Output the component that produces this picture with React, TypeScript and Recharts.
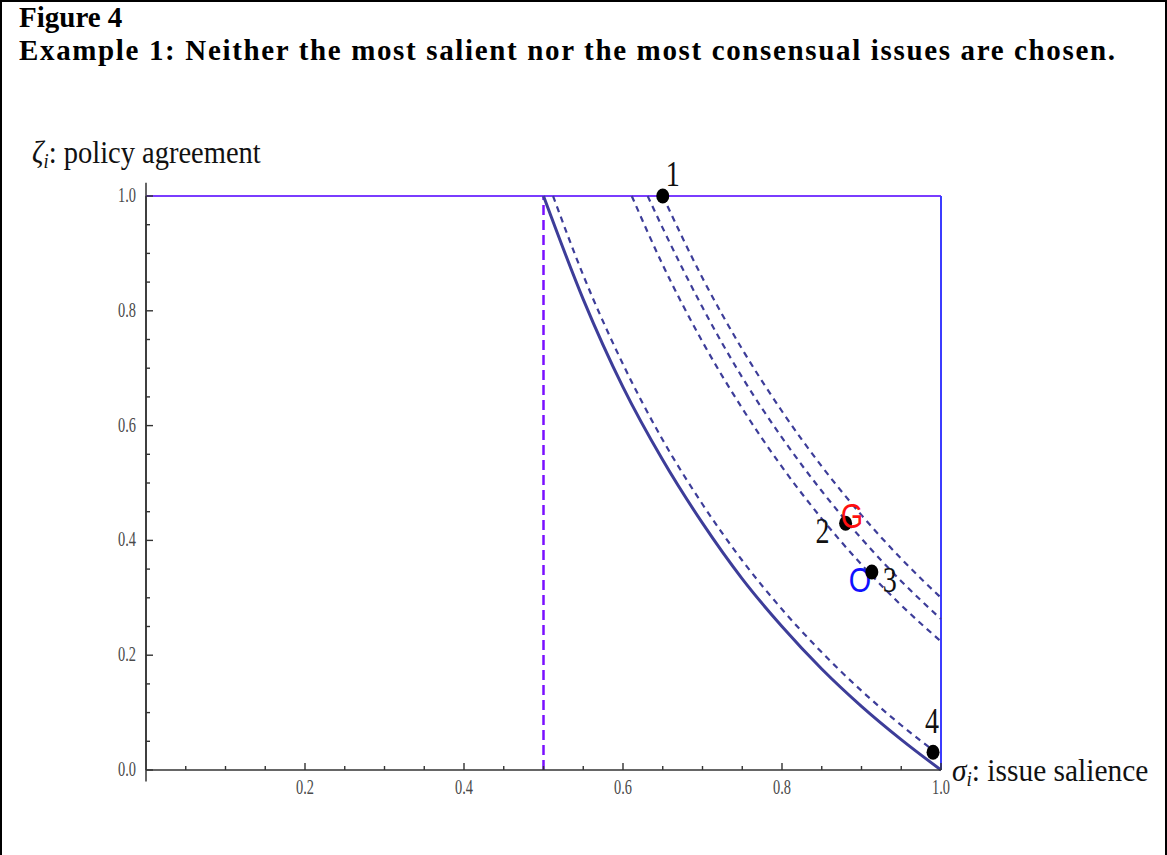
import React from "react";
import { ComposedChart, Line, Scatter, XAxis, YAxis, ReferenceLine } from "recharts";

// curves: sigma (issue salience) -> zeta (policy agreement)
const solidSigma = [0.5, 0.55, 0.6, 0.65, 0.7, 0.75, 0.8, 0.85, 0.9, 0.95, 1.0];
const solidZeta = [1.0, 0.82, 0.667, 0.54, 0.43, 0.333, 0.25, 0.176, 0.111, 0.053, 0.0];

const nearSigma = [0.512, 0.55, 0.6, 0.65, 0.7, 0.75, 0.8, 0.85, 0.9, 0.95, 1.0];
const nearZeta = [1.0, 0.862, 0.707, 0.575, 0.463, 0.365, 0.28, 0.205, 0.138, 0.078, 0.024];

const aSigma = [0.611, 0.65, 0.7, 0.75, 0.8, 0.85, 0.9, 0.95, 1.0];
const aZeta = [1.0, 0.88, 0.746, 0.63, 0.528, 0.438, 0.358, 0.287, 0.224];

const bSigma = [0.631, 0.65, 0.7, 0.75, 0.8, 0.85, 0.9, 0.95, 1.0];
const bZeta = [1.0, 0.944, 0.806, 0.684, 0.579, 0.486, 0.403, 0.329, 0.263];

const cSigma = [0.65, 0.7, 0.75, 0.8, 0.85, 0.9, 0.95, 1.0];
const cZeta = [1.0, 0.857, 0.733, 0.625, 0.529, 0.444, 0.368, 0.3];

// issues
const pointNames = ["1", "2", "3", "4"];
const pointSigma = [0.65, 0.88, 0.913, 0.99];
const pointZeta = [1.0, 0.43, 0.345, 0.031];

// G / O markers
const markerNames = ["G", "O"];
const markerSigma = [0.888, 0.898];
const markerZeta = [0.444, 0.332];

const xTicks = [0.05, 0.1, 0.15, 0.2, 0.25, 0.3, 0.35, 0.4, 0.45, 0.5, 0.55, 0.6, 0.65, 0.7, 0.75, 0.8, 0.85, 0.9, 0.95, 1.0];
const yTicks = [0, 0.05, 0.1, 0.15, 0.2, 0.25, 0.3, 0.35, 0.4, 0.45, 0.5, 0.55, 0.6, 0.65, 0.7, 0.75, 0.8, 0.85, 0.9, 0.95, 1.0];

const toPts = (xs: number[], ys: number[]) => xs.map((x, i) => ({ x, y: ys[i] }));

const curveColor = "#3d3d99";
const markerColors: Record<string, string> = { G: "#ff1010", O: "#1010ff" };
const labelOffsets: Record<string, [number, number]> = {
  "1": [10, -10],
  "2": [-23, 20],
  "3": [18, 20],
  "4": [-1, -19],
};

const isMajor = (v: number) => Math.abs(v * 5 - Math.round(v * 5)) < 1e-6;

function XTick(props: any) {
  const { x, y, payload } = props;
  const v = payload.value;
  const major = isMajor(v);
  return (
    <g>
      <line x1={x} x2={x} y1={y} y2={y - (major ? 7 : 4)} stroke="#333" strokeWidth={1.4} />
      {major && (
        <text
          transform={`translate(${x},${y + 24}) scale(0.72,1)`}
          textAnchor="middle"
          fontFamily="Liberation Serif"
          fontSize={20}
          fill="#4a4a4a"
        >
          {v.toFixed(1)}
        </text>
      )}
    </g>
  );
}

function YTick(props: any) {
  const { x, y, payload } = props;
  const v = payload.value;
  const major = isMajor(v);
  return (
    <g>
      <line x1={x} x2={x + (major ? 7 : 4)} y1={y} y2={y} stroke="#333" strokeWidth={1.4} />
      {major && (
        <text
          transform={`translate(${x - 10},${y + 6}) scale(0.72,1)`}
          textAnchor="end"
          fontFamily="Liberation Serif"
          fontSize={20}
          fill="#4a4a4a"
        >
          {v.toFixed(1)}
        </text>
      )}
    </g>
  );
}

function IssueDot(props: any) {
  const { cx, cy, payload } = props;
  const [dx, dy] = labelOffsets[payload.name] || [0, 0];
  return (
    <g>
      <ellipse cx={cx} cy={cy} rx={6.5} ry={7.5} fill="#000" />
      <text
        transform={`translate(${cx + dx},${cy + dy}) scale(0.78,1)`}
        textAnchor="middle"
        fontFamily="Liberation Serif"
        fontSize={36}
        fill="#111"
      >
        {payload.name}
      </text>
    </g>
  );
}

function LetterMark(props: any) {
  const { cx, cy, payload } = props;
  return (
    <text
      transform={`translate(${cx},${cy + 13}) scale(0.8,1)`}
      textAnchor="middle"
      fontFamily="Liberation Sans"
      fontSize={36}
      fill={markerColors[payload.name]}
    >
      {payload.name}
    </text>
  );
}

export default function App() {
  const issues = pointNames.map((name, i) => ({ name, x: pointSigma[i], y: pointZeta[i] }));
  const markers = markerNames.map((name, i) => ({ name, x: markerSigma[i], y: markerZeta[i] }));
  const dashed = [toPts(nearSigma, nearZeta), toPts(aSigma, aZeta), toPts(bSigma, bZeta), toPts(cSigma, cZeta)];

  return (
    <div
      style={{
        position: "absolute",
        left: 0,
        top: 0,
        width: 1167,
        height: 855,
        boxSizing: "border-box",
        borderLeft: "2px solid #000",
        borderTop: "2px solid #000",
        borderRight: "2px solid #000",
        background: "#fff",
        overflow: "hidden",
      }}
    >
      <div style={{ position: "absolute", left: -2, top: -2 }}>
        <ComposedChart width={1167} height={855} margin={{ top: 196, right: 226, bottom: 55, left: 86 }}>
          <XAxis
            type="number"
            dataKey="x"
            domain={[0, 1]}
            ticks={xTicks}
            interval={0}
            tickSize={0}
            tickMargin={0}
            tickLine={false}
            tick={<XTick />}
            axisLine={{ stroke: "#333", strokeWidth: 1.5 }}
            height={30}
          />
          <YAxis
            type="number"
            dataKey="y"
            domain={[0, 1]}
            ticks={yTicks}
            interval={0}
            tickSize={0}
            tickMargin={0}
            tickLine={false}
            tick={<YTick />}
            axisLine={{ stroke: "#333", strokeWidth: 1.5 }}
            width={60}
          />
          <ReferenceLine
            segment={[{ x: 0, y: -0.02 }, { x: 0, y: 1.023 }]}
            stroke="#333"
            strokeWidth={1.5}
            ifOverflow="visible"
          />
          <ReferenceLine segment={[{ x: 0, y: 1 }, { x: 1, y: 1 }]} stroke="#7a3cff" strokeWidth={2} ifOverflow="visible" />
          <ReferenceLine segment={[{ x: 1, y: 0 }, { x: 1, y: 1 }]} stroke="#3c3cff" strokeWidth={2} ifOverflow="visible" />
          <ReferenceLine x={0.5} stroke="#7a10ff" strokeWidth={2.5} strokeDasharray="10 5" />
          <Line
            data={toPts(solidSigma, solidZeta)}
            dataKey="y"
            type="monotone"
            stroke={curveColor}
            strokeWidth={3}
            dot={false}
            isAnimationActive={false}
          />
          {dashed.map((d, i) => (
            <Line
              key={i}
              data={d}
              dataKey="y"
              type="monotone"
              stroke={curveColor}
              strokeWidth={2.2}
              strokeDasharray="6 5"
              dot={false}
              isAnimationActive={false}
            />
          ))}
          <Scatter data={markers.filter((m) => m.name === "O")} dataKey="y" shape={<LetterMark />} isAnimationActive={false} />
          <Scatter data={issues} dataKey="y" shape={<IssueDot />} isAnimationActive={false} />
          <Scatter data={markers.filter((m) => m.name === "G")} dataKey="y" shape={<LetterMark />} isAnimationActive={false} />
        </ComposedChart>
      </div>
      <svg
        width={1167}
        height={855}
        style={{ position: "absolute", left: -2, top: -2, pointerEvents: "none" }}
      >
        <g fontFamily="Liberation Serif" fontWeight="bold" fill="#000" fontSize={29}>
          <text x={19} y={27}>Figure 4</text>
          <text x={19} y={60} textLength={1096} lengthAdjust="spacing">
            Example 1: Neither the most salient nor the most consensual issues are chosen.
          </text>
        </g>
        <text transform="translate(32,163) scale(0.92,1)" fontFamily="Liberation Serif" fontSize={31} fill="#111">
          <tspan fontStyle="italic">ζ</tspan>
          <tspan fontStyle="italic" fontSize={20} dy={5}>i</tspan>
          <tspan dy={-5}>: policy agreement</tspan>
        </text>
        <text transform="translate(952,781) scale(0.95,1)" fontFamily="Liberation Serif" fontSize={31} fill="#111">
          <tspan fontStyle="italic">σ</tspan>
          <tspan fontStyle="italic" fontSize={20} dy={5}>i</tspan>
          <tspan dy={-5}>: issue salience</tspan>
        </text>
      </svg>
    </div>
  );
}
